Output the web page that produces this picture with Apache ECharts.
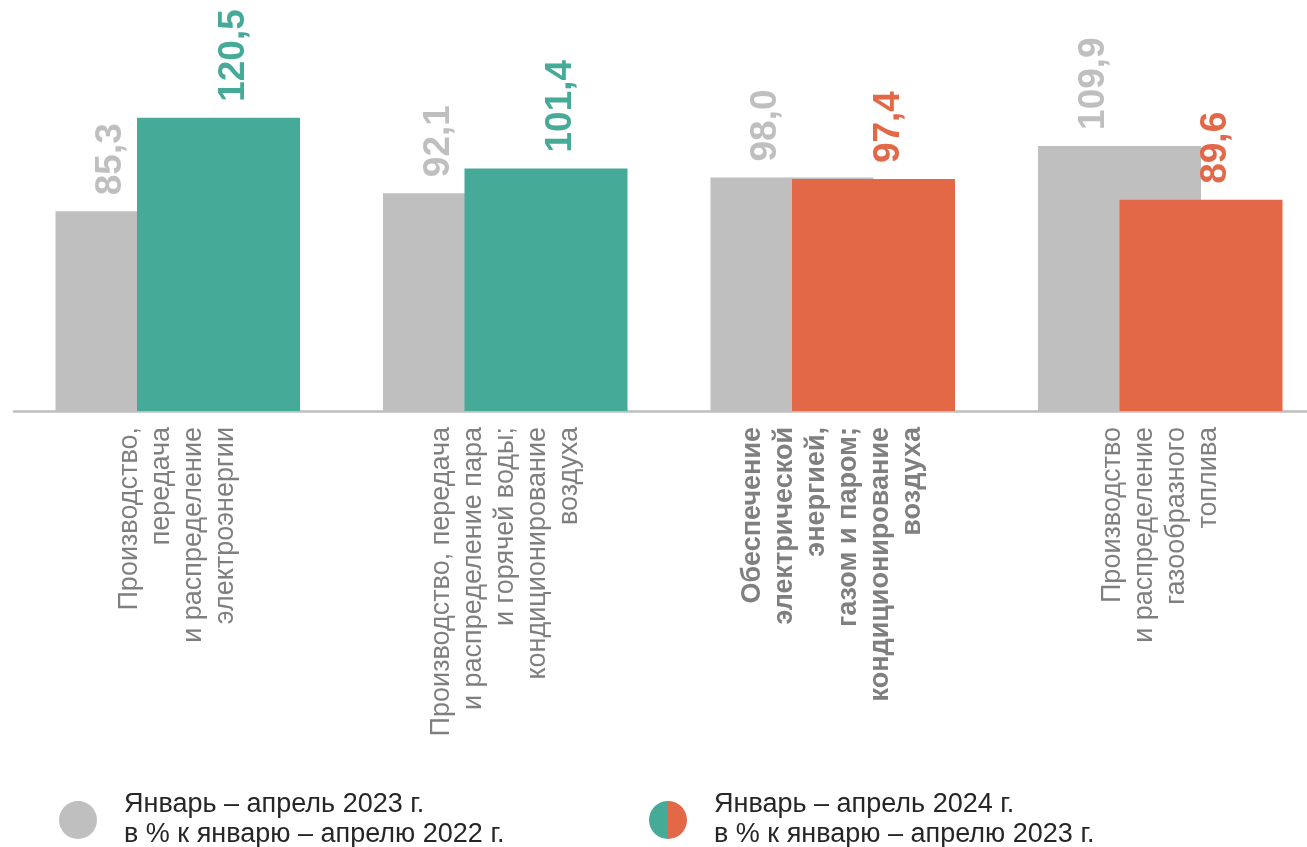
<!DOCTYPE html>
<html>
<head>
<meta charset="utf-8">
<script src="https://cdn.jsdelivr.net/npm/echarts@6/dist/echarts.min.js"></script>
<style>
html,body{margin:0;padding:0;background:#ffffff;}
#chart{width:1307px;height:847px;}
</style>
</head>
<body>
<div id="chart"></div>
<script>
// ---- data ----
const categories = [
  'Производство,\nпередача\nи распределение\nэлектроэнергии',
  'Производство, передача\nи распределение пара\nи горячей воды;\nкондиционирование\nвоздуха',
  'Обеспечение\nэлектрической\nэнергией,\nгазом и паром;\nкондиционирование\nвоздуха',
  'Производство\nи распределение\nгазообразного\nтоплива'
];
const totalCategoryIndex = 2; // aggregate section, shown in bold
const seriesPrevName = 'Январь – апрель 2023 г.\nв % к январю – апрелю 2022 г.';
const seriesCurrName = 'Январь – апрель 2024 г.\nв % к январю – апрелю 2023 г.';
const valuesPrev = [85.3, 92.1, 98.0, 109.9];
const valuesCurr = [120.5, 101.4, 97.4, 89.6];

// ---- styles ----
const GRAY = '#bfbfbf';
const TEAL = '#46aa98';
const ORANGE = '#e26847';
const fmt = v => v.toFixed(1).replace('.', ',');
const currColor = v => (v >= 100 ? TEAL : ORANGE);

const chart = echarts.init(document.getElementById('chart'), null, {renderer: 'canvas'});

const labelFont = 'Liberation Sans, Arial, sans-serif';
const legendText = {fontFamily: labelFont, fontSize: 27, lineHeight: 30, color: '#262626', padding: [0, 0, 0, 22]};

chart.setOption({
  animation: false,
  backgroundColor: '#ffffff',
  grid: {left: 14, width: 1310, top: 13, bottom: 436, containLabel: false, outerBoundsMode: 'none'},
  xAxis: {
    type: 'category',
    data: categories,
    axisLine: {show: true, lineStyle: {color: '#bfbfbf', width: 2.5}},
    axisTick: {show: false},
    axisLabel: {
      interval: 0,
      rotate: 90,
      margin: 16,
      fontFamily: labelFont,
      fontSize: 27,
      lineHeight: 32,
      color: '#7f7f7f',
      formatter: (val, idx) => {
        if (idx === totalCategoryIndex) {
          return val.split('\n').map(l => '{b|' + l + '}').join('\n');
        }
        return val;
      },
      rich: {
        b: {fontWeight: 'bold', fontSize: 27, lineHeight: 32, color: '#7f7f7f', fontFamily: labelFont}
      }
    }
  },
  yAxis: {
    type: 'value',
    min: 10,
    max: 160,
    show: false,
    splitLine: {show: false}
  },
  legend: [
    {
      left: 59, top: 790, padding: 0,
      itemWidth: 38, itemHeight: 38,
      icon: 'circle',
      selectedMode: false,
      data: [{name: seriesPrevName}],
      textStyle: legendText
    },
    {
      left: 649, top: 790, padding: 0,
      itemWidth: 38, itemHeight: 38,
      icon: 'circle',
      selectedMode: false,
      data: [{
        name: seriesCurrName,
        itemStyle: {
          color: {
            type: 'linear', x: 0, y: 0, x2: 1, y2: 0,
            colorStops: [
              {offset: 0, color: TEAL}, {offset: 0.5, color: TEAL},
              {offset: 0.5, color: ORANGE}, {offset: 1, color: ORANGE}
            ]
          }
        }
      }],
      textStyle: legendText
    }
  ],
  series: [
    {
      name: seriesPrevName,
      type: 'bar',
      barWidth: 163,
      barGap: '-50%',
      data: valuesPrev,
      itemStyle: {color: GRAY},
      label: {
        show: true,
        position: 'top',
        rotate: 90,
        align: 'left',
        verticalAlign: 'middle',
        distance: 16,
        offset: [0, -26],
        fontFamily: labelFont,
        fontSize: 37,
        fontWeight: 'bold',
        color: GRAY,
        formatter: p => fmt(p.value)
      }
    },
    {
      name: seriesCurrName,
      type: 'bar',
      barWidth: 163,
      barGap: '-50%',
      data: valuesCurr.map(v => ({
        value: v,
        itemStyle: {color: currColor(v)},
        label: {color: currColor(v)}
      })),
      itemStyle: {color: ORANGE},
      label: {
        show: true,
        position: 'top',
        rotate: 90,
        align: 'left',
        verticalAlign: 'middle',
        distance: 16,
        offset: [0, 15],
        fontFamily: labelFont,
        fontSize: 37,
        fontWeight: 'bold',
        formatter: p => fmt(p.value)
      }
    }
  ]
});
</script>
</body>
</html>
